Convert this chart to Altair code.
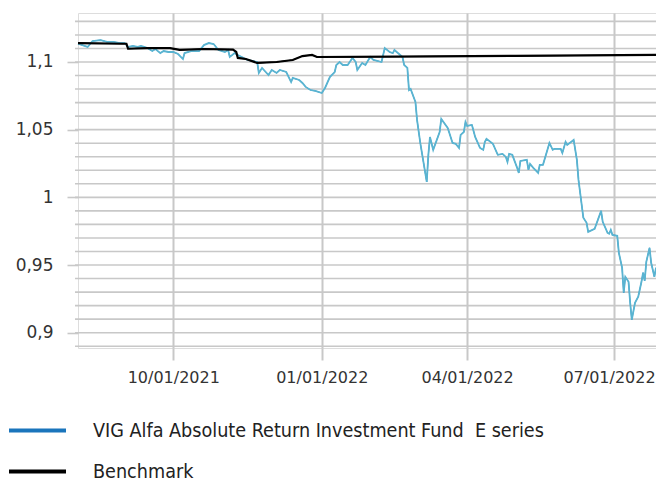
import altair as alt
import pandas as pd

series_names = ["VIG Alfa Absolute Return Investment Fund\u00a0 E series", "Benchmark"]

fund_dates = [
    "2021-08-03", "2021-08-09", "2021-08-12", "2021-08-17", "2021-08-21", "2021-08-25", "2021-08-29",
    "2021-09-01", "2021-09-03", "2021-09-06", "2021-09-09", "2021-09-11", "2021-09-13", "2021-09-15",
    "2021-09-18", "2021-09-20", "2021-09-23", "2021-09-25", "2021-09-28", "2021-10-01", "2021-10-04",
    "2021-10-07", "2021-10-08", "2021-10-12", "2021-10-17", "2021-10-20", "2021-10-23", "2021-10-26",
    "2021-10-29", "2021-11-02", "2021-11-04", "2021-11-05", "2021-11-08", "2021-11-10", "2021-11-16",
    "2021-11-22", "2021-11-23", "2021-11-25", "2021-11-29", "2021-12-01", "2021-12-04", "2021-12-06",
    "2021-12-10", "2021-12-13", "2021-12-14", "2021-12-18", "2021-12-20", "2021-12-22", "2021-12-25",
    "2021-12-28", "2022-01-01", "2022-01-03", "2022-01-06", "2022-01-09", "2022-01-10", "2022-01-12",
    "2022-01-14", "2022-01-17", "2022-01-20", "2022-01-22", "2022-01-23", "2022-01-26", "2022-01-28",
    "2022-01-31", "2022-02-02", "2022-02-07", "2022-02-09", "2022-02-12", "2022-02-14", "2022-02-15",
    "2022-02-20", "2022-02-21", "2022-02-23", "2022-02-24", "2022-02-25", "2022-02-28", "2022-03-01",
    "2022-03-03", "2022-03-07", "2022-03-08", "2022-03-09", "2022-03-11", "2022-03-15", "2022-03-16",
    "2022-03-20", "2022-03-23", "2022-03-25", "2022-03-27", "2022-03-28", "2022-03-30", "2022-03-31",
    "2022-04-01", "2022-04-04", "2022-04-06", "2022-04-09", "2022-04-11", "2022-04-12", "2022-04-13",
    "2022-04-17", "2022-04-20", "2022-04-23", "2022-04-25", "2022-04-26", "2022-04-27", "2022-04-29",
    "2022-05-02", "2022-05-03", "2022-05-04", "2022-05-08", "2022-05-09", "2022-05-10", "2022-05-12",
    "2022-05-15", "2022-05-16", "2022-05-18", "2022-05-22", "2022-05-24", "2022-05-25", "2022-05-29",
    "2022-05-30", "2022-06-01", "2022-06-02", "2022-06-06", "2022-06-08", "2022-06-09", "2022-06-12",
    "2022-06-14", "2022-06-15", "2022-06-19", "2022-06-21", "2022-06-23", "2022-06-24", "2022-06-27",
    "2022-06-28", "2022-06-29", "2022-06-30", "2022-07-03", "2022-07-04", "2022-07-06", "2022-07-07",
    "2022-07-08", "2022-07-10", "2022-07-11", "2022-07-12", "2022-07-14", "2022-07-16", "2022-07-18",
    "2022-07-19", "2022-07-20", "2022-07-21", "2022-07-23", "2022-07-24", "2022-07-26", "2022-07-27",
]
fund_values = [
    1.1135, 1.1111, 1.1155, 1.1162, 1.1148, 1.1148, 1.1140,
    1.1140, 1.1111, 1.1118, 1.1111, 1.1118, 1.1111, 1.1103,
    1.1081, 1.1096, 1.1066, 1.1081, 1.1074, 1.1074, 1.1059,
    1.1022, 1.1066, 1.1081, 1.1081, 1.1125, 1.1140, 1.1133,
    1.1089, 1.1074, 1.1089, 1.1037, 1.1066, 1.1052, 1.1015,
    1.1000, 1.0919, 1.0956, 1.0904, 1.0941, 1.0919, 1.0941,
    1.0926, 1.0852, 1.0882, 1.0867, 1.0845, 1.0816, 1.0793,
    1.0786, 1.0771, 1.0808, 1.0889, 1.0926, 1.0978, 1.1000,
    1.0978, 1.0978, 1.1030, 1.1000, 1.0941, 1.0993, 1.0978,
    1.1037, 1.1015, 1.1000, 1.1103, 1.1074, 1.1066, 1.1089,
    1.1037, 1.0978, 1.0956, 1.0793, 1.0801, 1.0705, 1.0572,
    1.0402, 1.0114, 1.0314, 1.0446, 1.0351, 1.0483, 1.0579,
    1.0513, 1.0402, 1.0395, 1.0365, 1.0461, 1.0483, 1.0557,
    1.0528, 1.0535, 1.0446, 1.0365, 1.0351, 1.0410, 1.0432,
    1.0395, 1.0314, 1.0321, 1.0299, 1.0262, 1.0321, 1.0314,
    1.0218, 1.0181, 1.0269, 1.0277, 1.0203, 1.0247, 1.0218,
    1.0181, 1.0240, 1.0240, 1.0402, 1.0351, 1.0358, 1.0358,
    1.0328, 1.0410, 1.0387, 1.0424, 1.0277, 1.0129, 0.9849,
    0.9812, 0.9745, 0.9768, 0.9834, 0.9900, 0.9819, 0.9738,
    0.9731, 0.9760, 0.9723, 0.9716, 0.9590, 0.9480, 0.9295,
    0.9413, 0.9376, 0.9221, 0.9096, 0.9221, 0.9266, 0.9376,
    0.9443, 0.9384, 0.9524, 0.9627, 0.9517, 0.9413, 0.9480,
]

bench_dates = [
    "2021-08-03", "2021-08-31", "2021-09-02", "2021-09-03", "2021-09-15", "2021-09-29", "2021-10-05",
    "2021-10-20", "2021-11-07", "2021-11-09", "2021-11-10", "2021-11-15", "2021-11-22", "2021-12-04",
    "2021-12-14", "2021-12-20", "2021-12-26", "2021-12-29", "2022-02-15", "2022-05-01", "2022-07-27",
]
bench_values = [
    1.1140, 1.1135, 1.1135, 1.1098, 1.1103, 1.1103, 1.1089,
    1.1096, 1.1092, 1.1074, 1.1030, 1.1022, 1.0993, 1.1000,
    1.1015, 1.1044, 1.1052, 1.1037, 1.1040, 1.1045, 1.1052,
]

x_tick_dates = [(2021, 10, 1), (2022, 1, 1), (2022, 4, 1), (2022, 7, 1)]
x_domain = [(2021, 8, 3), (2022, 7, 27)]
y_label_values = [0.9, 0.95, 1.0, 1.05, 1.1]
y_grid_values = [0.89, 0.90, 0.91, 0.92, 0.93, 0.94, 0.95, 0.96, 0.97, 0.98, 0.99, 1.00,
                 1.01, 1.02, 1.03, 1.04, 1.05, 1.06, 1.07, 1.08, 1.09, 1.10, 1.11, 1.12, 1.13]
y_domain = [0.8887, 1.1362]

fund_color = "#5ab4d1"
fund_legend_color = "#1a75bc"
bench_color = "#000000"
grid_color = "#c8c8c8"

df = pd.concat([
    pd.DataFrame({"date": fund_dates, "value": fund_values, "series": series_names[0]}),
    pd.DataFrame({"date": bench_dates, "value": bench_values, "series": series_names[1]}),
])
grid_df = pd.DataFrame({"value": y_grid_values})

W, H = 578, 335

def dt(t):
    return alt.DateTime(year=t[0], month=t[1], date=t[2], utc=True)

x_enc = alt.X(
    "date:T",
    scale=alt.Scale(type="utc", domain=[dt(t) for t in x_domain]),
    axis=alt.Axis(
        values=[dt(t) for t in x_tick_dates],
        labelExpr="utcFormat(datum.value, '%m/%d/%Y')",
        grid=True, gridColor=grid_color, gridWidth=2, domain=False,
        tickSize=12, tickColor=grid_color, tickWidth=2,
        labelFont="DejaVu Sans", labelFontSize=16, labelColor="#333333", labelPadding=9,
        labelOffset=alt.condition("utcmonth(datum.value) == 6", alt.value(-5), alt.value(0)),
        title=None, labelFlush=False,
    ),
)
y_axis = alt.Axis(
    values=y_label_values, labelExpr="replace(format(datum.value, '~g'), '.', ',')",
    grid=False, domain=False, tickSize=11, tickColor=grid_color, tickWidth=1.6,
    labelFont="DejaVu Sans", labelFontSize=17, labelColor="#333333", labelPadding=14,
    title=None,
)
y_scale = alt.Scale(domain=y_domain, nice=False, zero=False)

grid = alt.Chart(grid_df).mark_rule(color=grid_color, strokeWidth=1.6).encode(
    y=alt.Y("value:Q", scale=y_scale, axis=y_axis),
    x=alt.value(-3), x2=alt.value(W),
)

carrier = alt.Chart(df).mark_line(strokeWidth=1).encode(
    x=x_enc,
    y=alt.Y("value:Q", scale=y_scale, axis=y_axis),
    color=alt.Color(
        "series:N",
        scale=alt.Scale(domain=series_names, range=[fund_legend_color, bench_color]),
        legend=alt.Legend(
            orient="none", legendX=-71, legendY=387, direction="vertical", title=None,
            symbolType="stroke", symbolSize=3249, symbolStrokeWidth=4,
            labelFont="Liberation Sans Narrow, DejaVu Sans Condensed, sans-serif",
            labelFontSize=19.6, labelColor="#222222", labelOffset=25, labelLimit=700,
            rowPadding=-26, padding=0,
        ),
    ),
    detail="series:N",
)

fund_line = alt.Chart(df).transform_filter(
    alt.datum.series == series_names[0]
).mark_line(color=fund_color, strokeWidth=1.8).encode(
    x=x_enc, y=alt.Y("value:Q", scale=y_scale, axis=y_axis),
)
bench_line = alt.Chart(df).transform_filter(
    alt.datum.series == series_names[1]
).mark_line(color=bench_color, strokeWidth=2.2).encode(
    x=x_enc, y=alt.Y("value:Q", scale=y_scale, axis=y_axis),
)

chart = alt.layer(grid, carrier, fund_line, bench_line).properties(
    width=W, height=H,
    autosize=alt.AutoSizeParams(type="none"),
    padding={"left": 70, "top": 5, "right": 0, "bottom": 133},
).configure_view(stroke=grid_color, strokeWidth=2).configure(background="white")

chart.save("out.html", embed_options={"renderer": "svg", "actions": False})
